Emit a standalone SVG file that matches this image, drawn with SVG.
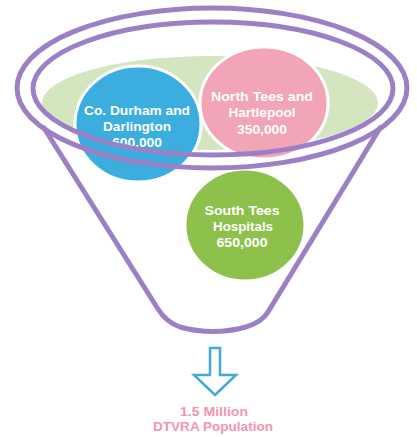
<svg xmlns="http://www.w3.org/2000/svg" width="417" height="437" viewBox="0 0 417 437">
<style>
.lbl{font-family:"Liberation Sans",Arial,sans-serif;font-weight:bold;font-size:12px;fill:#ffffff;text-anchor:middle}
.bot{font-family:"Liberation Sans",Arial,sans-serif;font-weight:bold;font-size:12px;fill:#f295ad;text-anchor:middle}
.circ{stroke:#ffffff;stroke-width:3}
.funnel{fill:none;stroke:#9c80c6;stroke-width:5;stroke-linejoin:round;stroke-linecap:round}
</style>
<rect width="417" height="437" fill="#ffffff"/>
<g id="background">
<ellipse cx="210" cy="103" rx="168" ry="47" fill="#d3e6bf"/>
</g>
<g id="node-durham">
<ellipse class="circ" cx="138" cy="124" rx="63" ry="58" fill="#3badde"/>
<text class="lbl" x="137" y="115" textLength="106" lengthAdjust="spacingAndGlyphs">Co. Durham and</text>
<text class="lbl" x="137" y="131" textLength="68" lengthAdjust="spacingAndGlyphs">Darlington</text>
<text class="lbl" x="137" y="147" textLength="50" lengthAdjust="spacingAndGlyphs">600,000</text>
</g>
<g id="node-northtees">
<ellipse class="circ" cx="264" cy="103" rx="64" ry="56" fill="#f2a5b6"/>
<text class="lbl" x="262" y="101" textLength="102" lengthAdjust="spacingAndGlyphs">North Tees and</text>
<text class="lbl" x="262" y="117" textLength="67" lengthAdjust="spacingAndGlyphs">Hartlepool</text>
<text class="lbl" x="262" y="134" textLength="50" lengthAdjust="spacingAndGlyphs">350,000</text>
</g>
<g id="node-southtees">
<ellipse class="circ" cx="245" cy="225" rx="60" ry="56" fill="#8dc14b"/>
<text class="lbl" x="242" y="215" textLength="75" lengthAdjust="spacingAndGlyphs">South Tees</text>
<text class="lbl" x="243" y="231" textLength="60" lengthAdjust="spacingAndGlyphs">Hospitals</text>
<text class="lbl" x="242" y="247" textLength="51" lengthAdjust="spacingAndGlyphs">650,000</text>
</g>
<g id="funnel">
<ellipse class="funnel" cx="212" cy="88" rx="195" ry="80"/>
<ellipse class="funnel" cx="213" cy="88.5" rx="180" ry="66.5"/>
<path class="funnel" d="M44,128 L158,309 Q166,322 180,327 Q213,336 246,327 Q262,322 268,312 L380,128"/>
</g>
<g id="connectors">
<polygon points="210,348 220,348 220,375 236,375 215,395 194,375 210,375" fill="#ffffff" stroke="#45a8dc" stroke-width="2.5" stroke-linejoin="miter"/>
</g>
<g id="node-total">
<text class="bot" x="214" y="416" textLength="68" lengthAdjust="spacingAndGlyphs">1.5 Million</text>
<text class="bot" x="213" y="431" textLength="120" lengthAdjust="spacingAndGlyphs">DTVRA Population</text>
</g>
</svg>
